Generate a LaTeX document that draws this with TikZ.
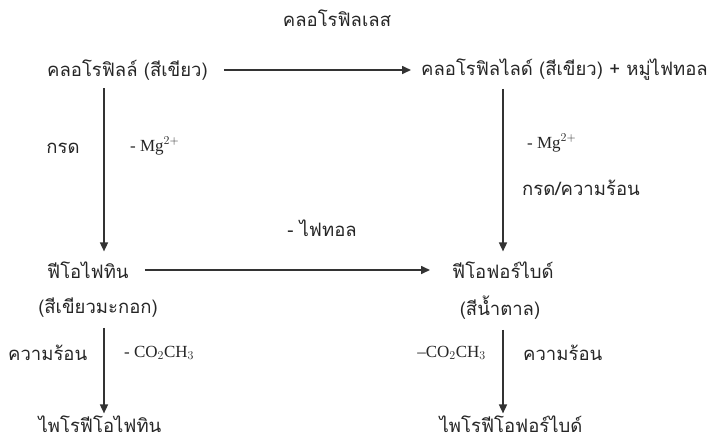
\documentclass[tikz,border=0pt]{standalone}
\usepackage{fontspec}
\setmainfont{Liberation Serif}
\newfontfamily\thaifont[Script=Thai]{Loma}
\usetikzlibrary{arrows.meta}
\begin{document}
\begin{tikzpicture}[x=1pt,y=-1pt,
  th/.style={font=\thaifont\fontsize{18.5}{21}\selectfont, inner sep=0pt, text=black!85},
  chem/.style={font=\fontsize{17}{19}\selectfont, inner sep=0pt, text=black!85},
  arr/.style={draw=black!80, line width=1.6pt, -{Triangle[length=9pt,width=8pt]}}]
\useasboundingbox[fill=white] (0,0) rectangle (717,442);
% row 1
\node[th] (enz) at (337,18) {คลอโรฟิลเลส};
\node[th, anchor=west] (chl) at (47,70) {คลอโรฟิลล์ (สีเขียว)};
\node[th, anchor=west] (chd) at (421,70) {คลอโรฟิลไลด์ (สีเขียว) + หมู่ไฟทอล};
% row 2
\node[th, anchor=west] (pht) at (47,270) {ฟีโอไฟทิน};
\node[th, anchor=west] (pbd) at (452,270) {ฟีโอฟอร์ไบด์};
\node[th] (pcol) at (98,308) {(สีเขียวมะกอก)};
\node[th] (bcol) at (500,308) {(สีน้ำตาล)};
% row 3
\node[th] (ppht) at (100,424) {ไพโรฟีโอไฟทิน};
\node[th] (ppbd) at (511,424) {ไพโรฟีโอฟอร์ไบด์};
% x positions of vertical arrows, y positions of horizontal arrows
\coordinate (xl) at (104,0);
\coordinate (xr) at (503,0);
\coordinate (y1) at (0,70);
\coordinate (y2) at (0,270);
% horizontal arrows
\draw[arr, shorten <=16pt, shorten >=10pt] (chl.east |- y1) -- (chd.west |- y1);
\draw[arr, shorten <=16pt, shorten >=22pt] (pht.east |- y2) -- (pbd.west |- y2);
% vertical arrows
\draw[arr, shorten <=8pt, shorten >=10pt] (chl.south -| xl) -- (pht.north -| xl);
\draw[arr, shorten <=8pt, shorten >=10pt] (chd.south -| xr) -- (pbd.north -| xr);
\draw[arr, shorten <=10pt, shorten >=2pt] (pcol.south -| xl) -- (ppht.north -| xl);
\draw[arr, shorten <=10pt, shorten >=2pt] (bcol.south -| xr) -- (ppbd.north -| xr);
% labels
\node[th] (l1) at (63,148) {กรด};
\node[chem, anchor=west] (l2) at (130,146) {- Mg$^{2+}$};
\node[chem, anchor=west] (l3) at (527,143) {- Mg$^{2+}$};
\node[th, anchor=west] (l4) at (522,188) {กรด/ความร้อน};
\node[th] (l5) at (322,228) {- ไฟทอล};
\node[th, anchor=west] (l6) at (8,353) {ความร้อน};
\node[chem, anchor=west] (l7) at (124,353) {- CO$_2$CH$_3$};
\node[chem, anchor=east] (l8) at (486,353) {--CO$_2$CH$_3$};
\node[th, anchor=west] (l9) at (523,353) {ความร้อน};
\end{tikzpicture}
\end{document}
